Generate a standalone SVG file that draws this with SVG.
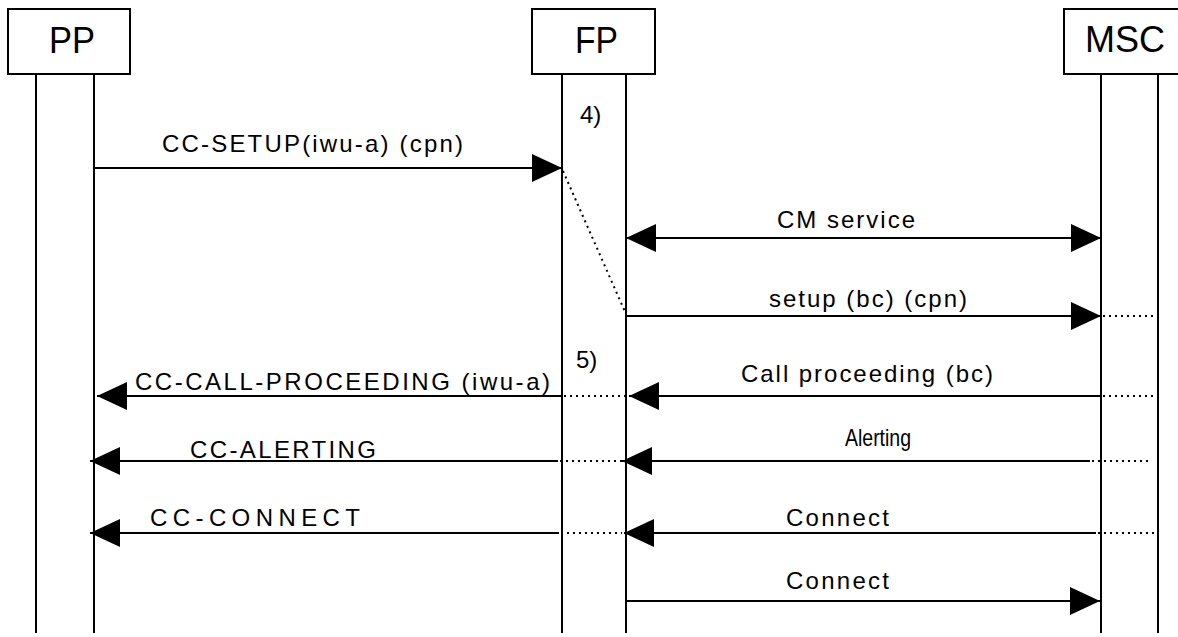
<svg xmlns="http://www.w3.org/2000/svg" width="1178" height="637" viewBox="0 0 1178 637">
<style>
.box{fill:#fff;stroke:#000;stroke-width:2}
.life{stroke:#000;stroke-width:2;fill:none}
.msg{stroke:#000;stroke-width:2;fill:none}
.dot{stroke:#000;stroke-width:2;fill:none;stroke-dasharray:2,4}
.hdr{font-family:"Liberation Sans",Arial,sans-serif;font-size:36px;fill:#000}
.lbl{font-family:"Liberation Sans",Arial,sans-serif;font-size:24px;fill:#000}
</style>
<defs>
<marker id="ah" markerUnits="userSpaceOnUse" markerWidth="30" markerHeight="28" refX="30" refY="14" orient="auto-start-reverse">
<path d="M0,0 L30,14 L0,28 Z" fill="#000"/>
</marker>
</defs>
<rect width="1178" height="637" fill="#fff"/>
<g id="PP">
<rect class="box" x="8" y="9" width="122" height="65"/>
<text class="hdr" x="49" y="53" textLength="46" lengthAdjust="spacingAndGlyphs">PP</text>
<line class="life" x1="36" y1="74" x2="36" y2="633"/>
<line class="life" x1="94" y1="74" x2="94" y2="633"/>
</g>
<g id="FP">
<rect class="box" x="532" y="9" width="123" height="65"/>
<text class="hdr" x="575" y="53" textLength="43" lengthAdjust="spacingAndGlyphs">FP</text>
<line class="life" x1="562" y1="74" x2="562" y2="633"/>
<line class="life" x1="626" y1="74" x2="626" y2="633"/>
</g>
<g id="MSC">
<rect class="box" x="1064" y="9" width="130" height="65"/>
<text class="hdr" x="1085" y="52" textLength="80" lengthAdjust="spacingAndGlyphs">MSC</text>
<line class="life" x1="1101" y1="74" x2="1101" y2="633"/>
<line class="life" x1="1158" y1="74" x2="1158" y2="633"/>
</g>
<g id="connectors">
<line class="msg" x1="94" y1="168" x2="562" y2="168" marker-end="url(#ah)"/>
<line class="dot" x1="563" y1="171" x2="626" y2="314"/>
<line class="msg" x1="626" y1="238" x2="1101" y2="238" marker-start="url(#ah)" marker-end="url(#ah)"/>
<line class="msg" x1="626" y1="316" x2="1101" y2="316" marker-end="url(#ah)"/>
<line class="dot" x1="1103" y1="316" x2="1158" y2="316"/>
<line class="msg" x1="1101" y1="396" x2="629" y2="396" marker-end="url(#ah)"/>
<line class="dot" x1="1103" y1="396" x2="1158" y2="396"/>
<line class="dot" x1="564" y1="396" x2="626" y2="396"/>
<line class="msg" x1="563" y1="396" x2="97" y2="396" marker-end="url(#ah)"/>
<line class="msg" x1="1090" y1="461" x2="622" y2="461" marker-end="url(#ah)"/>
<line class="dot" x1="1092" y1="461" x2="1152" y2="461"/>
<line class="dot" x1="560" y1="461" x2="622" y2="461"/>
<line class="msg" x1="558" y1="461" x2="90" y2="461" marker-end="url(#ah)"/>
<line class="msg" x1="1096" y1="533" x2="624" y2="533" marker-end="url(#ah)"/>
<line class="dot" x1="1098" y1="533" x2="1157" y2="533"/>
<line class="dot" x1="561" y1="533" x2="622" y2="533"/>
<line class="msg" x1="559" y1="533" x2="90" y2="533" marker-end="url(#ah)"/>
<line class="msg" x1="626" y1="601" x2="1100" y2="601" marker-end="url(#ah)"/>
</g>
<g id="labels">
<text class="lbl" x="580" y="123">4)</text>
<text class="lbl" x="162" y="152" textLength="301" lengthAdjust="spacing">CC-SETUP(iwu-a) (cpn)</text>
<text class="lbl" x="777" y="228" textLength="138" lengthAdjust="spacing">CM service</text>
<text class="lbl" x="769" y="307" textLength="198" lengthAdjust="spacing">setup (bc) (cpn)</text>
<text class="lbl" x="576" y="368">5)</text>
<text class="lbl" x="135" y="390" textLength="415" lengthAdjust="spacing">CC-CALL-PROCEEDING (iwu-a)</text>
<text class="lbl" x="741" y="382" textLength="252" lengthAdjust="spacing">Call proceeding (bc)</text>
<text class="lbl" x="190" y="458" textLength="186" lengthAdjust="spacing">CC-ALERTING</text>
<text class="lbl" x="845" y="446" textLength="66" lengthAdjust="spacingAndGlyphs">Alerting</text>
<text class="lbl" x="150" y="526" textLength="210" lengthAdjust="spacing">CC-CONNECT</text>
<text class="lbl" x="786" y="526" textLength="103" lengthAdjust="spacing">Connect</text>
<text class="lbl" x="786" y="589" textLength="103" lengthAdjust="spacing">Connect</text>
</g>
</svg>
